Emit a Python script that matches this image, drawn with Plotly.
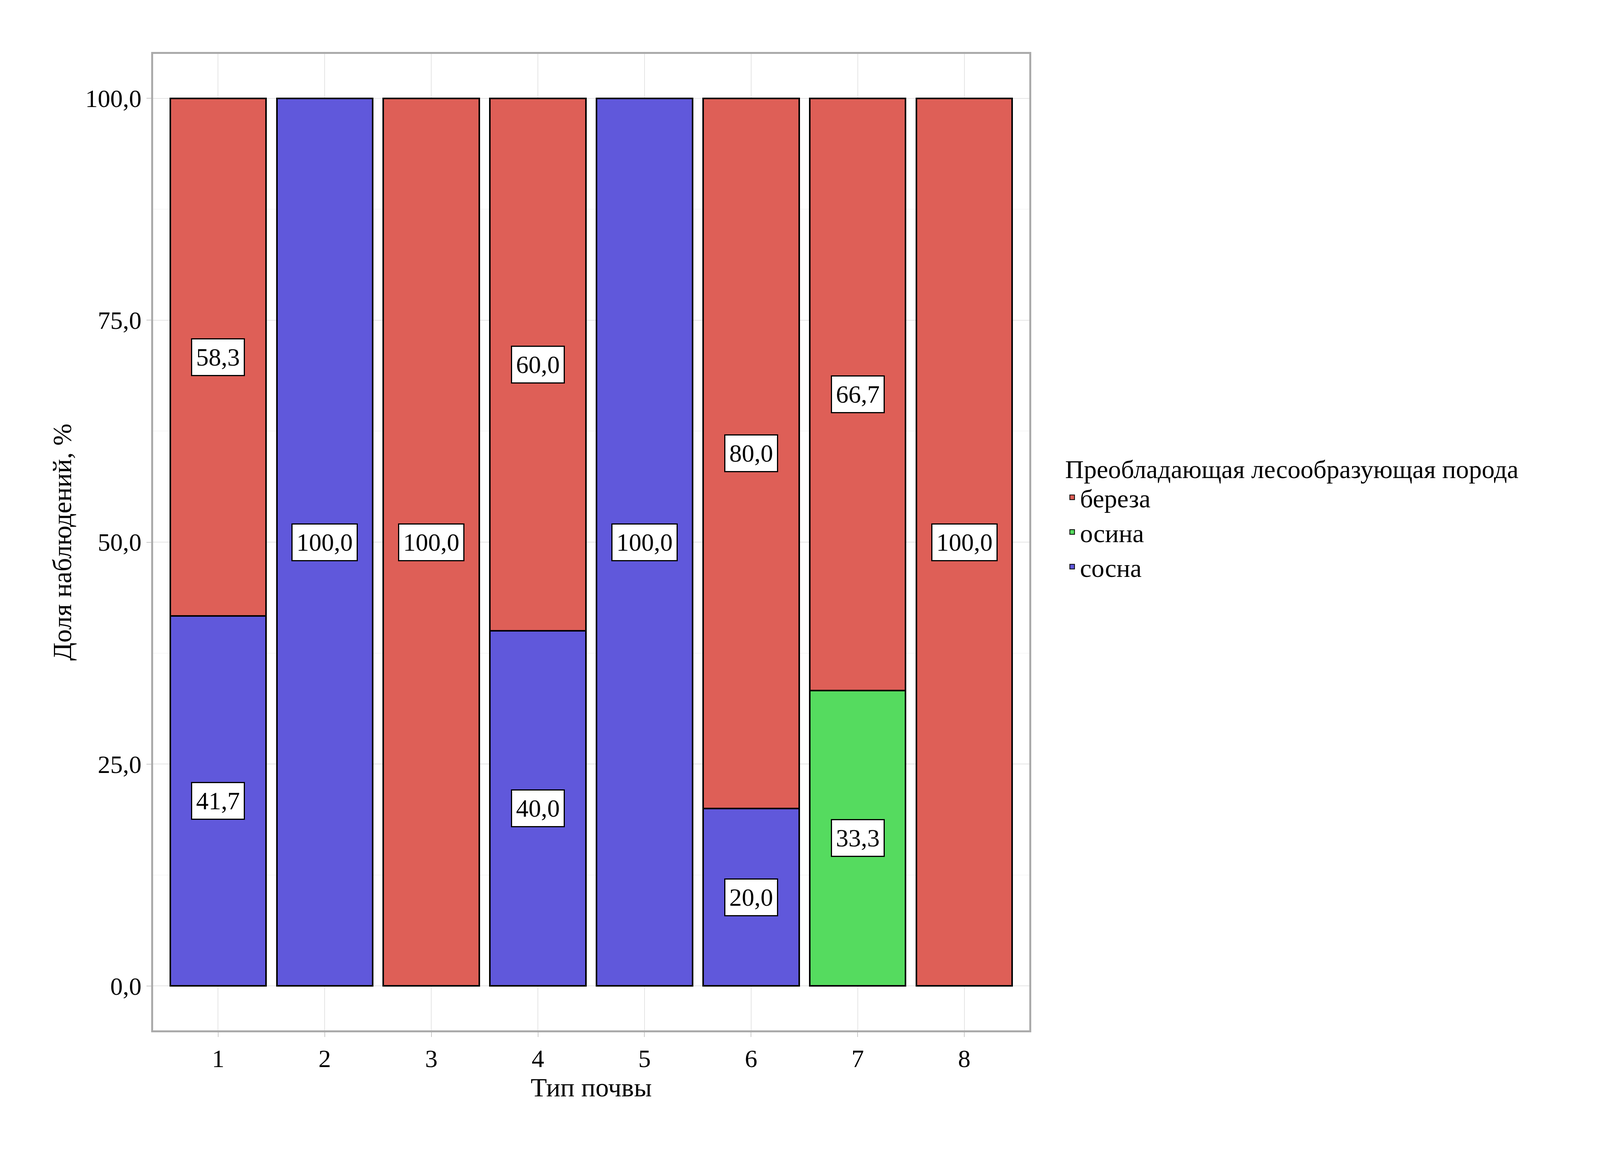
import plotly.graph_objects as go

soil = [1, 2, 3, 4, 5, 6, 7, 8]
sosna = [41.7, 100.0, 0, 40.0, 100.0, 20.0, 0, 0]
osina = [0, 0, 0, 0, 0, 0, 33.3, 0]
bereza = [58.3, 0, 100.0, 60.0, 0, 80.0, 66.7, 100.0]

series = [("сосна", sosna, "#6058DB"), ("осина", osina, "#55DB5F"), ("береза", bereza, "#DE5F57")]
F = "Liberation Serif"
fig = go.Figure()
base = [0] * len(soil)
ann = []
for name, vals, col in series:
    fig.add_trace(go.Bar(x=soil, y=vals, name=name, marker=dict(color=col, line=dict(color="black", width=4)), width=0.9))
    for i, v in enumerate(vals):
        if v > 0:
            ann.append(dict(x=soil[i], y=base[i] + v / 2, text=f"{v:.1f}".replace(".", ","), showarrow=False,
                            bgcolor="white", bordercolor="black", borderwidth=3, borderpad=10,
                            font=dict(family=F, size=64, color="black")))
        base[i] += v

fig.update_layout(
    barmode="stack", width=4527, height=2952, autosize=False, paper_bgcolor="white", plot_bgcolor="white",
    margin=dict(l=384, r=1900, t=130, b=322), separators=",.",
    font=dict(family=F, size=64, color="black"), annotations=ann,
    legend=dict(title=dict(text="Преобладающая лесообразующая порода", font=dict(size=66)), traceorder="reversed",
                x=1.04, y=0.6, xanchor="left", yanchor="top", font=dict(size=66), itemsizing="constant"),
)
fig.update_xaxes(range=[0.39, 8.61], tickvals=soil, ticks="outside", ticklen=12, tickcolor="#999",
                 showgrid=True, gridcolor="#e5e5e5", gridwidth=2, zeroline=False,
                 showline=True, linecolor="#aaa", linewidth=5, mirror=True,
                 title=dict(text="Тип почвы", font=dict(size=68)), tickfont=dict(size=64))
fig.update_yaxes(range=[-5, 105], tickvals=[0, 25, 50, 75, 100], tickformat=".1f", ticks="outside", ticklen=12, tickcolor="#999",
                 showgrid=True, gridcolor="#e5e5e5", gridwidth=2, zeroline=False,
                 minor=dict(tickvals=[12.5, 37.5, 62.5, 87.5], showgrid=True, gridcolor="#f0f0f0", gridwidth=1),
                 showline=True, linecolor="#aaa", linewidth=5, mirror=True,
                 title=dict(text="Доля наблюдений, %", font=dict(size=68)), tickfont=dict(size=64))
fig.write_html("out.html", config={"responsive": False})
